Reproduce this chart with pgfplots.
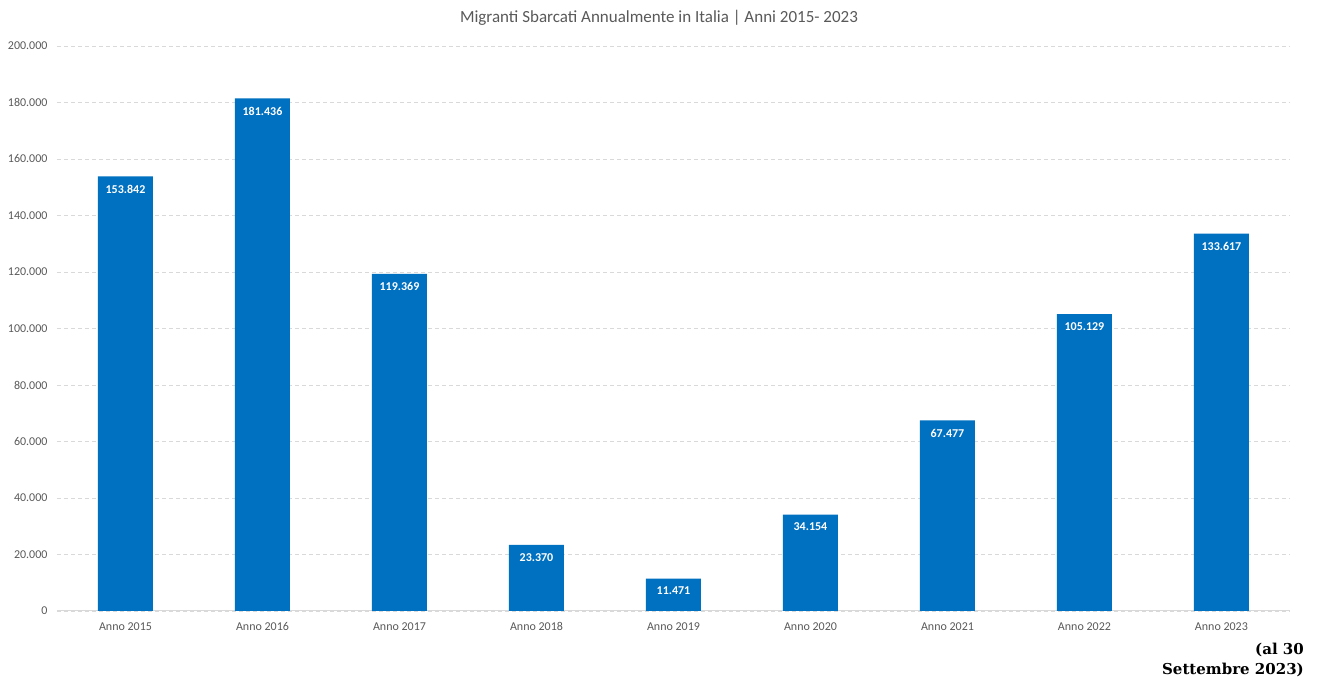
\documentclass[border=0pt]{standalone}
\usepackage{pgfplots}
\pgfplotsset{compat=1.18}
\usepackage{fontspec}
\setmainfont{Carlito}
\newfontfamily\footfont{DejaVu Serif}
\definecolor{barblue}{HTML}{0070C0}
\definecolor{txtgray}{HTML}{595959}
\definecolor{gridgray}{HTML}{D9D9D9}
\begin{document}
\begin{tikzpicture}
\useasboundingbox (0,0) rectangle (1318pt,682pt);
\begin{axis}[
  at={(57pt,71pt)}, anchor=south west,
  scale only axis, width=1233pt, height=565pt,
  xmin=-0.5, xmax=8.5, ymin=0, ymax=200000,
  axis y line*=none, axis x line*=bottom,
  axis line style={draw=none},
  x axis line style={draw=gridgray, line width=1pt},
  xtick=data,
  xticklabels={Anno 2015,Anno 2016,Anno 2017,Anno 2018,Anno 2019,Anno 2020,Anno 2021,Anno 2022,Anno 2023},
  ytick={0,20000,...,200000},
  scaled y ticks=false,
  major tick length=0pt,
  ymajorgrids, grid style={gridgray, dashed, dash pattern=on 4pt off 3pt, line width=0.8pt},
  tick label style={font=\fontsize{12}{14}\selectfont, color=txtgray},
  yticklabel style={xshift=-6pt},
  xticklabel style={yshift=-8pt, text height=8pt, text depth=2pt},
  /pgf/number format/.cd, fixed, precision=0, 1000 sep={.}, assume math mode=true,
  /pgfplots/.cd,
  clip=false,
  ybar, bar width=55pt,
  nodes near coords,
  every node near coord/.append style={anchor=north, yshift=-5pt, color=white, font=\fontsize{12}{14}\selectfont\bfseries},
]
\addplot[fill=barblue, draw=none] coordinates {
(0,153842) (1,181436) (2,119369) (3,23370) (4,11471) (5,34154) (6,67477) (7,105129) (8,133617)};
\end{axis}
\node[color=txtgray, font=\fontsize{17}{20}\selectfont] at (659pt,664pt) {Migranti Sbarcati Annualmente in Italia | Anni 2015- 2023};
\node[anchor=east, align=right, font=\footfont\bfseries\fontsize{15}{20}\selectfont, inner sep=0pt] at (1304pt,22pt) {(al 30\\Settembre 2023)};
\end{tikzpicture}
\end{document}
